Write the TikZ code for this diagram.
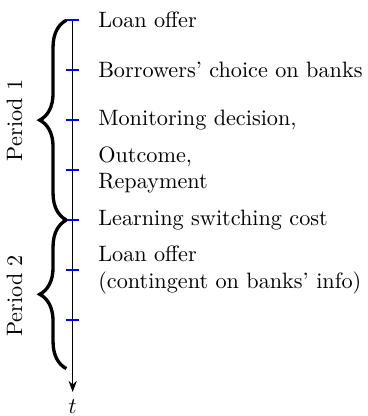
\documentclass[tikz,border=0pt]{standalone}
\usetikzlibrary{decorations.pathreplacing,arrows.meta}
\begin{document}
\begin{tikzpicture}
        \useasboundingbox (-1.15, 0.32) rectangle (4.66, -6.26);

        % time axis and its ticks
        \coordinate (top) at (0, 0);
        \coordinate (tend) at (0, -5.88);
        \coordinate (bend) at (0, -5.51);
        \draw[-{Stealth[length=5pt]}] (top)--(tend);
        \node[below] (t) at (tend) {$t$};
        \foreach \i in {0,...,6}{
            \coordinate (p\i) at (0, -0.79*\i);
            \draw[blue, thick] ([xshift=-0.1cm]p\i)--([xshift=0.1cm]p\i);
        }

        % events
        \node[anchor=west, align=left] (e0) at (0.28, 0) {Loan offer};
        \node[anchor=west, align=left] (e1) at (0.28, -0.79) {Borrowers' choice on banks};
        \node[anchor=west, align=left] (e2) at (0.28, -1.58) {Monitoring decision,};
        \node[anchor=west, align=left] (e3) at (0.28, -2.37) {Outcome,\\Repayment};
        \node[anchor=west, align=left] (e4) at (0.28, -3.16) {Learning switching cost};
        \node[anchor=west, align=left] (e5) at (0.28, -3.95) {Loan offer\\(contingent on banks' info)};

        % periods
        \draw[line width=1.5pt, decorate, decoration={brace, amplitude=12pt}]
            ([xshift=-0.1cm]p4)--([xshift=-0.1cm]p0);
        \draw[line width=1.5pt, decorate, decoration={brace, amplitude=12pt}]
            ([xshift=-0.1cm]bend)--([xshift=-0.1cm]p4);
        \node[rotate=90] (per1) at (-0.92, -1.58) {Period 1};
        \node[rotate=90] (per2) at (-0.92, -4.36) {Period 2};
    \end{tikzpicture}
\end{document}
